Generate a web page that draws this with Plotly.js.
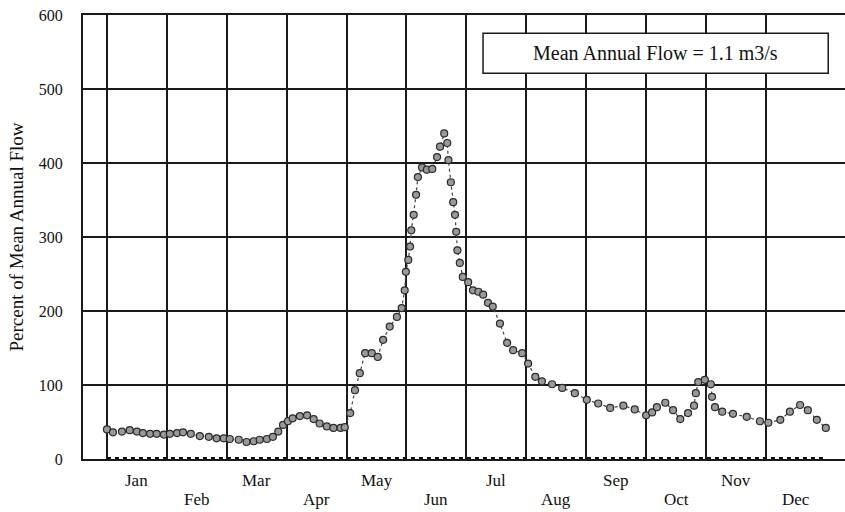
<!DOCTYPE html>
<html>
<head>
<meta charset="utf-8">
<script src="https://cdn.plot.ly/plotly-3.0.1.min.js"></script>
<style>html,body{margin:0;padding:0;background:#fff;}#chart{width:845px;height:512px;}</style>
</head>
<body>
<div id="chart"></div>
<script>
// Month labels (each month occupies one unit on the x axis)
const monthLabels = ["Jan","Feb","Mar","Apr","May","Jun","Jul","Aug","Sep","Oct","Nov","Dec"];
// Position within the year, in months from 1 Jan
const flowX = [0.0,0.1,0.25,0.38,0.5,0.6,0.72,0.83,0.95,1.05,1.17,1.27,1.4,1.55,1.7,1.83,1.95,2.05,2.2,2.33,2.45,2.55,2.67,2.77,2.86,2.94,3.02,3.1,3.22,3.34,3.45,3.55,3.67,3.78,3.9,3.97,4.06,4.14,4.22,4.31,4.42,4.52,4.61,4.72,4.84,4.92,4.97,4.99,5.03,5.06,5.08,5.12,5.16,5.19,5.26,5.34,5.43,5.51,5.56,5.63,5.68,5.7,5.74,5.78,5.81,5.83,5.85,5.89,5.94,6.03,6.11,6.2,6.28,6.36,6.44,6.56,6.68,6.78,6.93,7.03,7.15,7.26,7.43,7.6,7.81,8.01,8.2,8.4,8.62,8.81,9.0,9.1,9.18,9.32,9.45,9.57,9.7,9.8,9.83,9.87,9.98,10.08,10.1,10.15,10.27,10.45,10.68,10.9,11.04,11.24,11.4,11.57,11.7,11.85,12.0];
// Percent of mean annual flow
const flowPct = [40,36,37,39,37,35,34,34,33,34,35,36,34,31,30,28,28,27,26,23,24,26,27,30,37,46,51,55,58,59,54,48,44,42,42,43,62,93,116,143,143,138,161,179,192,204,228,253,269,287,309,330,357,381,394,391,392,408,422,440,427,404,374,347,330,307,282,265,246,239,228,226,222,211,206,183,157,147,143,129,111,105,101,96,89,80,75,69,72,67,59,63,70,76,66,54,62,72,89,104,107,101,84,70,64,61,57,51,49,53,64,73,66,53,42];
// Zero baseline drawn across the year
const baseX = [0, 12];
const baseY = [0, 0];
const yTicks = [0,100,200,300,400,500,600];
const noteText = "Mean Annual Flow = 1.1 m3/s";

const serif = "Liberation Serif, Times New Roman, serif";

const traces = [
  {
    x: baseX, y: baseY, type: "scatter", mode: "lines",
    line: {color: "#111", width: 4, dash: "dot"},
    hoverinfo: "skip", cliponaxis: false, showlegend: false
  },
  {
    x: flowX, y: flowPct, type: "scatter", mode: "lines+markers",
    line: {color: "#444", width: 1.2, dash: "dot"},
    marker: {symbol: "circle", size: 7, color: "#999", line: {color: "#2a2a2a", width: 1.2}},
    cliponaxis: false, showlegend: false
  }
];

const monthAnn = monthLabels.map((m, i) => ({
  x: i + 0.5, xref: "x", y: 0, yref: "paper",
  yanchor: "top", xanchor: "center",
  yshift: (i % 2 === 0) ? -10 : -29,
  text: m, showarrow: false,
  font: {family: serif, size: 17, color: "#111"}
}));

const layout = {
  width: 845, height: 512,
  margin: {l: 83, r: 0, t: 15, b: 53, pad: 0},
  paper_bgcolor: "#fff", plot_bgcolor: "#fff",
  showlegend: false,
  xaxis: {
    range: [-0.4, 12.32],
    tickmode: "array", tickvals: monthLabels.map((m, i) => i),
    showticklabels: false, ticks: "",
    showgrid: true, gridcolor: "#1a1a1a", gridwidth: 2,
    showline: true, linecolor: "#1a1a1a", linewidth: 2, mirror: true,
    zeroline: false, fixedrange: true
  },
  yaxis: {
    range: [0, 600],
    tickmode: "array", tickvals: yTicks, ticktext: yTicks.map(String),
    ticks: "outside", ticklen: 15, tickcolor: "rgba(0,0,0,0)",
    tickfont: {family: serif, size: 16, color: "#111"},
    showgrid: true, gridcolor: "#1a1a1a", gridwidth: 2,
    showline: true, linecolor: "#1a1a1a", linewidth: 2, mirror: false,
    zeroline: false, fixedrange: true,
    title: {text: "Percent of Mean Annual Flow", font: {family: serif, size: 19, color: "#111"}, standoff: 10}
  },
  shapes: [{
    type: "rect", xref: "paper", yref: "paper",
    x0: 0.525, x1: 0.978, y0: 0.869, y1: 0.959,
    line: {color: "#1a1a1a", width: 1.5}, fillcolor: "#fff", layer: "above"
  }],
  annotations: monthAnn.concat([{
    x: 0.7515, y: 0.914, xref: "paper", yref: "paper",
    xanchor: "center", yanchor: "middle",
    text: noteText, showarrow: false,
    font: {family: serif, size: 20, color: "#111"}
  }])
};

Plotly.newPlot("chart", traces, layout, {staticPlot: true, displayModeBar: false});
</script>
</body>
</html>
